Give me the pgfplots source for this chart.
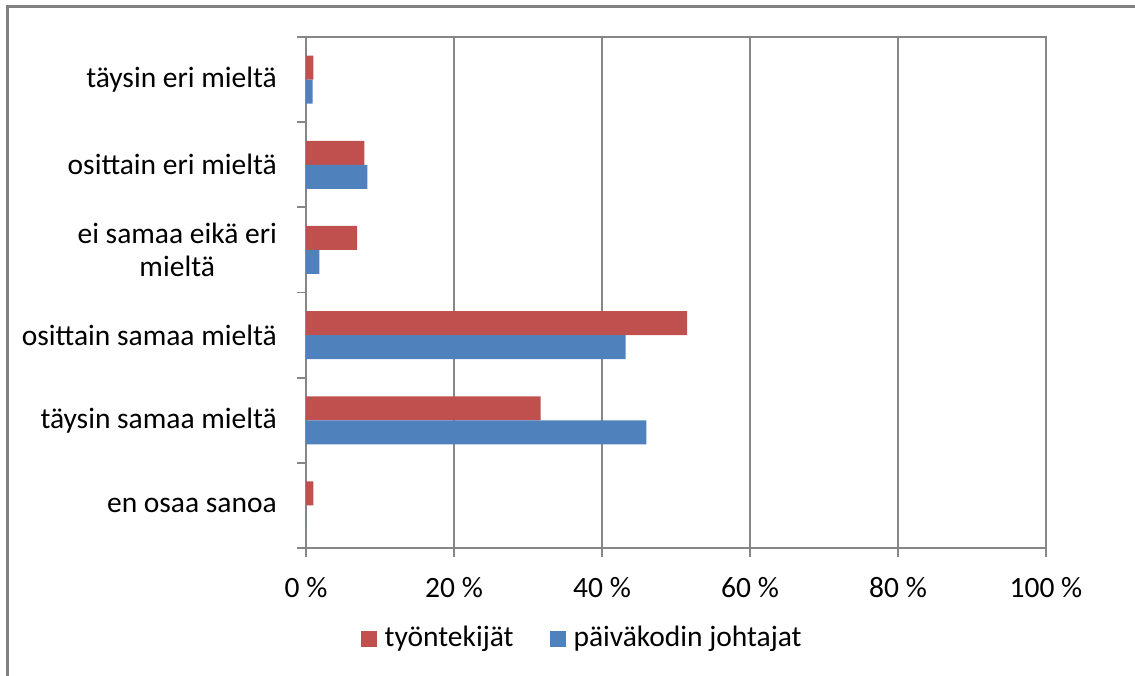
\documentclass[border=0pt]{standalone}
\usepackage{pgfplots}
\pgfplotsset{compat=1.18}
\usepackage{fontspec}
\setmainfont{Carlito}
\definecolor{cred}{RGB}{192,80,77}
\definecolor{cblue}{RGB}{79,129,189}
\definecolor{cgrid}{RGB}{134,134,134}
\definecolor{cframe}{RGB}{128,128,128}
\begin{document}
\fontsize{29.5}{33}\selectfont
\begin{tikzpicture}
\useasboundingbox (0,0) rectangle (1135pt,675pt);
\draw[cframe, line width=3pt] (7pt,-5pt) -- (7pt,668pt) -- (1140pt,668pt);
\begin{axis}[
  at={(306pt,127pt)}, anchor=south west,
  width=740pt, height=511pt, scale only axis,
  xmin=0, xmax=100, ymin=-0.5, ymax=5.5,
  axis line style={cgrid, line width=1.8pt},
  xmajorgrids, grid style={cgrid, line width=1.5pt},
  xtick={0,20,40,60,80,100},
  minor xtick={0,20,40,60,80,100},
  xticklabels={0 \%,20 \%,40 \%,60 \%,80 \%,100 \%},
  ytick={0,1,2,3,4,5},
  yticklabels={en osaa sanoa,täysin samaa mieltä,osittain samaa mieltä,{ei samaa eikä eri\\mieltä},osittain eri mieltä,täysin eri mieltä},
  minor ytick={-0.5,0.5,1.5,2.5,3.5,4.5,5.5},
  major tick length=0pt,
  minor tick length=9pt,
  tick align=outside,
  x tick style={cgrid, line width=1.5pt},
  y tick style={cgrid, line width=1.8pt},
  xtick pos=bottom, ytick pos=left,
  yticklabel style={anchor=east, align=center, inner sep=0pt, xshift=-29pt},
  xticklabel style={anchor=north, inner sep=0pt, yshift=-29pt},
  legend style={draw=none, fill=none, inner sep=0pt, outer sep=0pt,
    at={(0.0739,-0.1775)}, anchor=west, legend columns=2,
    /tikz/every even column/.append style={column sep=36pt},
    nodes={inner sep=0pt, outer sep=0pt}},
  legend cell align=left,
  legend image code/.code={\fill[#1] (0pt,-8pt) rectangle (16pt,8pt);},
]
\addplot[xbar, bar width=24pt, bar shift=12pt, fill=cred, draw=none]
  coordinates {(1.0,0) (31.7,1) (51.5,2) (6.9,3) (7.9,4) (1.0,5)};
\addlegendentry{\hspace{8pt}työntekijät}
\addplot[xbar, bar width=24pt, bar shift=-12pt, fill=cblue, draw=none]
  coordinates {(0,0) (46.0,1) (43.2,2) (1.8,3) (8.3,4) (0.9,5)};
\addlegendentry{\hspace{8pt}päiväkodin johtajat}
\end{axis}
\end{tikzpicture}
\end{document}
